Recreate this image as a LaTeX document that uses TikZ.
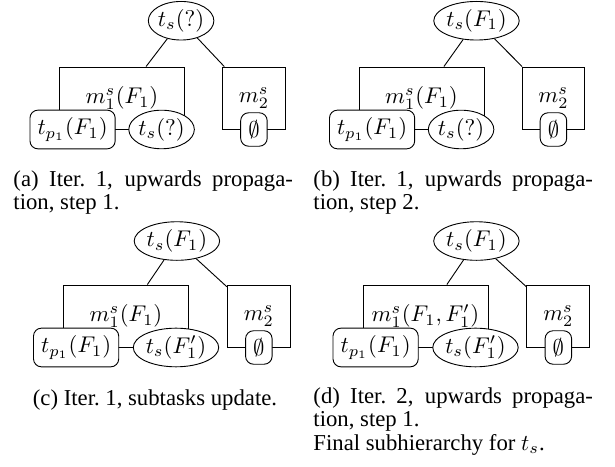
\documentclass[tikz,border=0pt]{standalone}
\usepackage{fontspec}
\setmainfont{Liberation Serif}
\usetikzlibrary{positioning}
\usetikzlibrary{shapes.geometric}

\tikzset{
  goal/.style={draw, ellipse, inner xsep=0pt, inner ysep=1pt, fill=white},
  task/.style={draw, rounded corners=3.5pt, fill=white},
  method/.style={draw, minimum width=55pt, minimum height=27.3pt},
  method2/.style={draw, minimum width=27.7pt, minimum height=27.3pt},
  subcap/.style={text width=123pt, align=justify, inner sep=0pt,
    font=\fontsize{10}{10.4}\selectfont},
}

\begin{document}
\begin{tikzpicture}[x=0.44pt, y=-0.44pt]
    \useasboundingbox (0,0) rectangle (615,466);

    % (a)
    \node[method] (m1a) at (122,98) {$m^s_1(F_1)$};
    \node[method2, right=16.3pt of m1a] (m2a) {$m^s_2$};
    \node[task, left=2.8pt of m1a.south] (tpa) {$t_{p_1}(F_1)$};
    \node[goal, right=2.8pt of m1a.south] (tsa) {$t_s(?)$};
    \node[task] (ea) at (m2a.south) {$\emptyset$};
    \node[goal] (ra) at ([shift={(26pt,34pt)}]m1a.center) {$t_s(?)$};
    \draw (ra) -- (m1a);
    \draw (ra) -- (m2a);
    \node[subcap, anchor=base west] (capa) at (13,186)
      {(a) Iter.~1, upwards propaga-\linebreak tion, step~1.};

    % (b)
    \node[method] (m1b) at (421.5,98) {$m^s_1(F_1)$};
    \node[method2, right=16.3pt of m1b] (m2b) {$m^s_2$};
    \node[task, left=2.8pt of m1b.south] (tpb) {$t_{p_1}(F_1)$};
    \node[goal, right=2.8pt of m1b.south] (tsb) {$t_s(?)$};
    \node[task] (eb) at (m2b.south) {$\emptyset$};
    \node[goal] (rb) at ([shift={(24.2pt,34pt)}]m1b.center) {$t_s(F_1)$};
    \draw (rb) -- (m1b);
    \draw (rb) -- (m2b);
    \node[subcap, anchor=base west] (capb) at (313,186)
      {(b) Iter.~1, upwards propaga-\linebreak tion, step~2.};

    % (c)
    \node[method] (m1c) at (126,316) {$m^s_1(F_1)$};
    \node[method2, right=16.7pt of m1c] (m2c) {$m^s_2$};
    \node[task, left=3pt of m1c.south] (tpc) {$t_{p_1}(F_1)$};
    \node[goal, right=3pt of m1c.south] (tsc) {$t_s(F'_1)$};
    \node[task] (ec) at (m2c.south) {$\emptyset$};
    \node[goal] (rc) at ([shift={(22.4pt,33pt)}]m1c.center) {$t_s(F_1)$};
    \draw (rc) -- (m1c);
    \draw (rc) -- (m2c);
    \node[anchor=base, inner sep=0pt, font=\fontsize{10}{10.4}\selectfont] (capc)
      at (155,405) {(c) Iter.~1, subtasks update.};

    % (d)
    \node[method] (m1d) at (425.5,316) {$m^s_1(F_1,F'_1)$};
    \node[method2, right=16.7pt of m1d] (m2d) {$m^s_2$};
    \node[task, left=3pt of m1d.south] (tpd) {$t_{p_1}(F_1)$};
    \node[goal, right=3pt of m1d.south] (tsd) {$t_s(F'_1)$};
    \node[task] (ed) at (m2d.south) {$\emptyset$};
    \node[goal] (rd) at ([shift={(22.4pt,33pt)}]m1d.center) {$t_s(F_1)$};
    \draw (rd) -- (m1d);
    \draw (rd) -- (m2d);
    \node[subcap, anchor=base west] (capd) at (313,403)
      {(d) Iter.~2, upwards propaga-\linebreak tion, step~1.\newline
       Final subhierarchy for $t_s$.};
\end{tikzpicture}
\end{document}
